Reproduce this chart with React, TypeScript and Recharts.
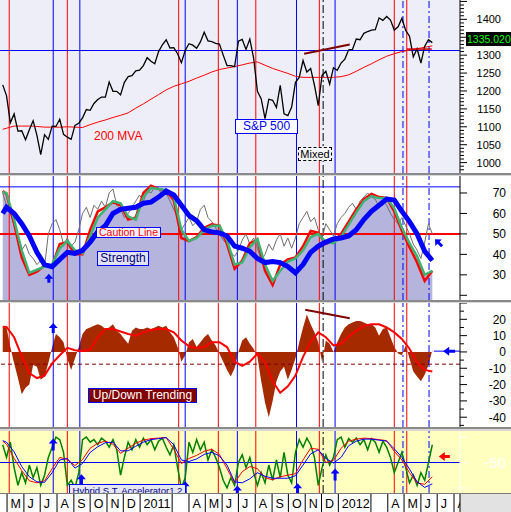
import React from "react";
import {
  Area,
  ComposedChart,
  Line,
  ReferenceDot,
  ReferenceLine,
  Scatter,
  XAxis,
  YAxis,
} from "recharts";

const FONT = "'Liberation Sans', Arial, Helvetica, sans-serif";
const ORIGIN = Date.UTC(2010, 3, 19);
const day = (iso: string) => (Date.parse(iso + "T00:00:00Z") - ORIGIN) / 86400000;
const X_DOMAIN: [number, number] = [-1, 846];

const W = 511;
const PLOT_W = 460;
const AXIS_W = W - PLOT_W;

// ---- weekly series (Friday closes, first week ends 2010-04-23) ----
const FIRST_WEEK = "2010-04-23";

const spxWeekly = [
  1217, 1187, 1111, 1136, 1088, 1089, 1064, 1092, 1117, 1076, 1022, 1078, 1065, 1102, 1101, 1121, 1079, 1071, 1065,
  1104, 1110, 1125, 1148, 1146, 1165, 1176, 1183, 1183, 1225, 1199, 1199, 1189, 1224, 1240, 1243, 1256, 1258,
  1271, 1293, 1283, 1276, 1310, 1329, 1343, 1320, 1321, 1304, 1279, 1313, 1332, 1328, 1319, 1337, 1364, 1340,
  1338, 1333, 1331, 1300, 1271, 1271, 1268, 1339, 1344, 1316, 1345, 1292, 1199, 1178, 1123, 1177, 1174, 1154,
  1216, 1136, 1131, 1155, 1224, 1238, 1285, 1253, 1263, 1216, 1159, 1244, 1255, 1219, 1265, 1258,
  1278, 1289, 1315, 1316, 1345, 1343, 1361, 1366, 1370, 1371, 1404, 1397, 1408, 1398, 1370, 1379, 1403, 1369,
  1353, 1295, 1318, 1278, 1325, 1343, 1335.02,
];

const strengthRawWeekly = [
  70, 64, 60, 55, 47, 42, 45, 40, 38, 35,
  37, 34, 50, 55, 57, 52, 45, 48, 44, 46,
  52, 60, 63, 58, 64, 62, 66, 63, 70, 72,
  64, 62, 58, 60, 63, 66, 69, 66, 71, 70,
  73, 72, 69, 70, 66, 62, 58, 52, 55, 58,
  54, 56, 62, 64, 58, 56, 53, 50, 47, 45,
  41, 39, 42, 47, 50, 45, 48, 43, 37, 40,
  45, 42, 47, 50, 44, 48, 43, 48, 55, 58,
  61, 56, 58, 52, 48, 55, 52, 49, 55, 58,
  60, 63, 65, 62, 66, 68, 70, 68, 67, 63,
  66, 64, 60, 57, 55, 58, 54, 50, 45, 42,
  38, 46, 55, 50,
];

const trendBarsWeekly = [
  15, 15, 3, -7, -16, -26, -22, -20, -8, -9,
  -17, -15, -7, 3, 11, 9, 6, -4, -11, -4,
  3, 11, 14, 15, 16, 17, 16, 14, 15, 17,
  13, 11, 8, 5, 13, 15, 14, 14, 15, 14,
  15, 16, 15, 16, 12, 9, 3, -6, -2, 6,
  8, 3, 6, 9, 11, 7, 4, -1, -6, -11,
  -15, -10, 0, 7, 9, 5, 2, -3, -18, -31,
  -40, -30, -18, -12, -9, -17, -11, -4, 6, 15,
  23, 17, 12, 6, -6, 7, 5, 0, 6, 11,
  15, 17, 18, 19, 19, 18, 17, 17, 15, 10,
  14, 15, 9, 3, -1, -2, 4, -4, -12, -15,
  -18, -14, -8, 1,
];

const accelFastWeekly = [
  -15, -40, -10, -60, -95, -70, -90, -55, -80, -60,
  -95, -75, -40, -20, 0, -5, -30, -95, -85, -100,
  -70, -5, 0, -10, -5, -15, -2, -8, -20, -5,
  -25, -75, -40, -10, -25, -5, -20, -2, -15, -5,
  -25, -8, -2, -20, -35, -15, -60, -100, -80, -10,
  -30, -5, -25, -10, -45, -25, -40, -60, -85, -100,
  -80, -95, -50, -35, -60, -40, -70, -95, -70, -90,
  -55, -85, -45, -80, -30, -75, -90, -30, -5, -20,
  -2, -15, -40, -95, -60, -35, -55, -40, -5, 0,
  -20, -3, -10, -2, -15, -5, -25, -3, -10, -30,
  -8, -20, -40, -70, -50, -30, -60, -90, -75, -95,
  -70, -85, -50, -15,
];

// ---- smoothed series: first week, then every second week from week 2 ----
const mva200 = [
  1093,
  1096, 1102, 1102, 1102, 1101, 1099, 1099, 1099, 1100, 1099,
  1098, 1106, 1113, 1119, 1126, 1132, 1139, 1152, 1164, 1177,
  1190, 1203, 1213, 1220, 1227, 1236, 1244, 1253, 1260, 1264,
  1268, 1273, 1278, 1281, 1272, 1263, 1256, 1249, 1241, 1238,
  1238, 1238, 1238, 1238, 1240, 1245, 1255, 1266, 1276, 1287,
  1297, 1304, 1310, 1314, 1318, 1322, 1326,
];

const strengthBlue = [
  60,
  63, 60, 55, 49, 41, 35, 34, 37.5, 41, 40.5,
  42, 46, 51, 54, 60, 62, 62.5, 63, 65, 65.5,
  68, 71, 69, 64, 59, 56.5, 52, 51, 50.5, 49,
  44, 43, 41.5, 38, 36, 36.5, 36, 34, 31, 35,
  41, 44, 46, 47.5, 48, 49, 52, 57, 61, 64,
  67, 66.5, 61, 56, 50, 41.5, 37,
];

const strengthRed = [
  71,
  69.5, 55, 38.5, 30, 31.5, 34.5, 34.5, 45, 46, 40,
  40, 52, 61, 63, 65.5, 64, 57, 58, 70, 73.5,
  72, 71, 66.5, 48, 46.5, 48.5, 53, 54.7, 54, 45,
  33, 37, 45.5, 47, 32, 25, 35, 37.5, 38.5, 44,
  51.5, 50.6, 45.2, 46.5, 50, 56, 62, 67, 69.5, 68,
  67.6, 61, 51.5, 43.5, 36, 27, 32,
];

const strengthGreen = [
  70.5,
  70, 57, 42, 31, 32.5, 34, 35, 43, 46.5, 42,
  40.5, 49, 58, 62, 66, 65, 58.5, 57, 68, 72.5,
  72, 71.5, 68, 52, 46.5, 48, 52, 54, 54, 47,
  35, 36, 43.5, 47.5, 35, 27, 32, 36.5, 38, 42,
  48.5, 50, 46, 45.5, 48.5, 54.5, 60.5, 66, 68.5, 67.5,
  67.5, 62.5, 53, 45.5, 39, 30, 32,
];

const trendLine = [
  15.5,
  15.3, 9, -2.5, -13, -16, -14.5, -7, -2, 2.5, 1,
  0.6, 1.5, 9, 14, 14, 12.5, 11, 10, 12, 13.5,
  14, 14, 12, 7, 3.5, 2.5, 3, 6, 6, 3,
  -6, -8.5, -6, -1, -6, -18, -25, -21, -14.5, -3,
  6, 12, 9, 4, 5, 9.5, 13, 16, 17, 17,
  15, 12, 8, 2, -6.5, -11, -12,
];

const accelBlue = [
  -7,
  -10, -29, -58, -78, -88, -89, -70, -45, -42, -61,
  -52, -30, -19, -11, -10, -27, -27, -18, -10, -5,
  -3, -1, -15, -45, -48, -43, -34, -30, -37, -55,
  -88, -90, -82, -70, -77, -81, -81, -81, -76, -55,
  -33, -25, -42, -51, -40, -17, -8, -4, -4, -6,
  -8, -23, -40, -63, -88, -99, -92,
];

const accelRed = [
  -8,
  -14, -42, -66, -86, -90, -86, -62, -40, -44, -56,
  -44, -22, -12, -8, -14, -32, -22, -12, -6, -3,
  -2, -1, -24, -52, -42, -36, -28, -24, -34, -62,
  -90, -68, -58, -62, -80, -84, -78, -75, -72, -45,
  -22, -24, -50, -46, -22, -8, -4, -2, -3, -5,
  -7, -28, -45, -70, -90, -93, -78,
];

// ---- signal dates drawn as vertical lines through every panel ----
const redEvents = ["2010-05-05", "2010-08-20", "2011-03-13", "2011-05-25", "2011-08-02", "2011-11-27", "2012-04-13", "2012-05-06"];
const blueEvents = ["2010-07-25", "2010-09-12", "2011-03-25", "2011-06-29", "2011-10-16", "2011-12-26"];
const blueDashEvents = ["2012-04-29", "2012-06-16"];
const blackDashEvents = ["2011-12-04"];

// arrows and trend marks: [date, value]
const strengthUp: [string, number] = ["2010-07-17", 30.5];
const strengthUpLeft: [string, number] = ["2012-06-27", 47.4];
const trendUp: [string, number] = ["2010-07-25", 17.8];
const trendLeft: [string, number] = ["2012-07-12", 0.5];
const accelLeft: [string, number] = ["2012-07-04", -38];
const accelSignals: [string, number][] = [
  ["2010-07-25", -3],
  ["2010-09-15", -73],
  ["2011-03-25", -87],
  ["2011-06-29", -95],
  ["2011-10-18", -91],
  ["2011-12-26", -62],
];
const spxResistance: [string, number][] = [["2011-10-30", 1304], ["2012-01-22", 1330]];
const spxSupport: [string, number][] = [["2012-05-06", 1317], ["2012-06-21", 1317]];
const trendDivergence: [string, number][] = [["2011-11-01", 25.8], ["2012-01-22", 20.7]];
const trendTail: [string, number][] = [["2012-06-25", 0.5], ["2012-08-12", 0.5]];

const SPX_LEVEL = 1313;
const STRENGTH_TOP = 73;
const CAUTION = 50;
const TREND_FLOOR = -7.5;
const ACCEL_MID = -50;

// 1350 sits under the last-price box, so it is not labelled
const spxLabels = [1000, 1050, 1100, 1150, 1200, 1250, 1300, 1400];
const strengthLabels = [30, 40, 50, 60, 70];
const trendLabels = [20, 10, 0, -10, -20, -30, -40];
const accelLabels = [-50];

const monthLabels: [string, string][] = [
  ["2010-05-01", "M"], ["2010-06-01", "J"], ["2010-07-01", "J"], ["2010-08-01", "A"],
  ["2010-09-01", "S"], ["2010-10-01", "O"], ["2010-11-01", "N"], ["2010-12-01", "D"],
  ["2011-01-01", "2011"], ["2011-03-01", ""], ["2011-04-01", "A"], ["2011-05-01", "M"],
  ["2011-06-01", "J"], ["2011-07-01", "J"], ["2011-08-01", "A"], ["2011-09-01", "S"],
  ["2011-10-01", "O"], ["2011-11-01", "N"], ["2011-12-01", "D"], ["2012-01-01", "2012"],
  ["2012-03-01", ""], ["2012-04-01", "A"], ["2012-05-01", "M"], ["2012-06-01", "J"],
  ["2012-07-01", "J"], ["2012-08-01", "A"],
];

const rows = spxWeekly.map((close, i) => {
  const k = i === 0 ? 0 : i % 2 === 1 ? (i + 1) / 2 : -1;
  const pick = (arr: number[]) => (k >= 0 ? arr[k] : undefined);
  return {
    d: day(FIRST_WEEK) + 7 * i,
    spx: close,
    raw: strengthRawWeekly[i],
    bars: trendBarsWeekly[i],
    fast: accelFastWeekly[i],
    mva: pick(mva200),
    sBlue: pick(strengthBlue),
    sRed: pick(strengthRed),
    sGreen: pick(strengthGreen),
    tLine: pick(trendLine),
    aBlue: pick(accelBlue),
    aRed: pick(accelRed),
  };
});

const steps = (from: number, to: number, step: number) => {
  const out: number[] = [];
  for (let v = from; v <= to; v += step) out.push(v);
  return out;
};

function makeTick(labels: number[], major: number, right: number, size: number, color: string, textColor: string) {
  return (p: any) => {
    const v = Math.round(p.payload.value);
    const isMajor = v % major === 0;
    const show = labels.includes(v);
    return (
      <g>
        <line x1={p.x} x2={p.x + (isMajor ? 7 : 4)} y1={p.y} y2={p.y} stroke={color} />
        {show && (
          <text x={p.x + right} y={p.y + size * 0.36} textAnchor="end" fontSize={size} fontFamily={FONT} fill={textColor}>
            {v}
          </text>
        )}
      </g>
    );
  };
}

function eventLines(id: string) {
  return [
    ...redEvents.map((iso) => <ReferenceLine key={id + "r" + iso} x={day(iso)} stroke="#FF0000" />),
    ...blueEvents.map((iso) => <ReferenceLine key={id + "b" + iso} x={day(iso)} stroke="#0000FF" />),
    ...blueDashEvents.map((iso) => (
      <ReferenceLine key={id + "bd" + iso} x={day(iso)} stroke="#0000FF" strokeDasharray="7 3 2 3" />
    )),
    ...blackDashEvents.map((iso) => (
      <ReferenceLine key={id + "k" + iso} x={day(iso)} stroke="#000000" strokeDasharray="8 3 2 3" />
    )),
  ];
}

const seg = (pts: [string, number][]) => pts.map(([iso, v]) => ({ x: day(iso), y: v }));

const upArrow = (color: string, h: number) => (p: any) => {
  const { cx, cy } = p;
  return (
    <path
      d={`M${cx},${cy} L${cx + 4.5},${cy + 5} L${cx + 1.5},${cy + 5} L${cx + 1.5},${cy + h} L${cx - 1.5},${cy + h} L${cx - 1.5},${cy + 5} L${cx - 4.5},${cy + 5} Z`}
      fill={color}
    />
  );
};

const leftArrow = (color: string, len: number) => (p: any) => {
  const { cx, cy } = p;
  return (
    <path
      d={`M${cx},${cy} L${cx + 6},${cy - 4.5} L${cx + 6},${cy - 1.5} L${cx + len},${cy - 1.5} L${cx + len},${cy + 1.5} L${cx + 6},${cy + 1.5} L${cx + 6},${cy + 4.5} Z`}
      fill={color}
    />
  );
};

const upLeftArrow = (p: any) => (
  <g transform={`rotate(-45 ${p.cx} ${p.cy})`}>{upArrow("#0000FF", 10)(p)}</g>
);

function Panel(props: {
  top: number;
  height: number;
  plotBg: string;
  axisBg: string;
  domain: [number, number];
  ticks: number[];
  tick: any;
  axisStroke: string;
  children: React.ReactNode;
}) {
  const { top, height, plotBg, axisBg, domain, ticks, tick, axisStroke, children } = props;
  return (
    <div style={{ position: "absolute", left: 0, top, width: W, height }}>
      <div style={{ position: "absolute", left: 0, top: 0, width: PLOT_W, height, background: plotBg }} />
      <div style={{ position: "absolute", left: PLOT_W, top: 0, width: AXIS_W, height, background: axisBg }} />
      <div style={{ position: "absolute", left: 0, top: 0 }}>
        <ComposedChart width={W} height={height} data={rows} margin={{ top: 0, right: 0, bottom: 0, left: 0 }}>
          <XAxis dataKey="d" type="number" domain={X_DOMAIN} hide allowDataOverflow />
          <YAxis
            orientation="right"
            width={AXIS_W}
            type="number"
            domain={domain}
            ticks={ticks}
            interval={0}
            tick={tick}
            tickLine={false}
            tickSize={0}
            tickMargin={0}
            axisLine={{ stroke: axisStroke }}
            allowDataOverflow
          />
          {children}
        </ComposedChart>
      </div>
    </div>
  );
}

function Tag(props: {
  left: number;
  top: number;
  width: number;
  height: number;
  bg: string;
  border: string;
  color: string;
  size: number;
  children: React.ReactNode;
}) {
  const { left, top, width, height, bg, border, color, size, children } = props;
  return (
    <div
      style={{
        position: "absolute",
        left,
        top,
        width,
        height,
        boxSizing: "border-box",
        background: bg,
        border,
        color,
        fontSize: size,
        fontFamily: FONT,
        lineHeight: `${height - 2}px`,
        textAlign: "center",
        whiteSpace: "nowrap",
        overflow: "hidden",
      }}
    >
      {children}
    </div>
  );
}

function MonthRow() {
  const top = 493;
  const height = 19;
  const data = monthLabels.map(([iso, t]) => ({ d: day(iso), y: 0, t }));
  return (
    <div style={{ position: "absolute", left: 0, top, width: W, height }}>
      <div style={{ position: "absolute", left: 0, top: 0, width: PLOT_W, height, background: "#FFFFFF" }} />
      <div style={{ position: "absolute", left: PLOT_W, top: 0, width: AXIS_W, height, background: "#E2E2E2" }} />
      <div style={{ position: "absolute", left: 0, top: 0, width: PLOT_W + 1, height, overflow: "hidden" }}>
        <ComposedChart width={W} height={height} data={data} margin={{ top: 0, right: 0, bottom: 0, left: 0 }}>
          <XAxis dataKey="d" type="number" domain={X_DOMAIN} hide allowDataOverflow />
          <YAxis orientation="right" width={AXIS_W} domain={[-1, 1]} tick={false} tickLine={false} axisLine={{ stroke: "#000" }} />
          {data.map((m) => (
            <ReferenceLine key={"m" + m.d} x={m.d} stroke="#000000" />
          ))}
          <Scatter
            dataKey="y"
            isAnimationActive={false}
            shape={(p: any) => (
              <text x={p.cx + 3.5} y={p.cy + 5} fontSize={12.5} fontFamily={FONT} fill="#000">
                {p.payload.t}
              </text>
            )}
          />
        </ComposedChart>
      </div>
      <div style={{ position: "absolute", left: 0, top: 0, width: W, height: 1, background: "#7A7A7A" }} />
    </div>
  );
}

export default function App() {
  const lastClose = spxWeekly[spxWeekly.length - 1];
  return (
    <div style={{ position: "absolute", left: 0, top: 0, width: W, height: 512, background: "#FFFFFF", overflow: "hidden" }}>
      <Panel
        top={0}
        height={173}
        plotBg="#EEEEF8"
        axisBg="#FFFFFF"
        domain={[971, 1454]}
        ticks={steps(980, 1450, 10)}
        tick={makeTick(spxLabels, 50, 41, 11, "#000", "#000")}
        axisStroke="#000"
      >
        {eventLines("p1")}
        <ReferenceLine y={SPX_LEVEL} stroke="#0000FF" />
        <Line dataKey="mva" stroke="#FF0000" strokeWidth={1} dot={false} activeDot={false} connectNulls isAnimationActive={false} />
        <Line dataKey="spx" stroke="#000000" strokeWidth={1.3} dot={false} activeDot={false} isAnimationActive={false} />
        <ReferenceLine segment={seg(spxResistance)} stroke="#800000" strokeWidth={2} />
        <ReferenceLine segment={seg(spxSupport)} stroke="#D00000" strokeWidth={1.5} />
      </Panel>

      <Panel
        top={176}
        height={124}
        plotBg="#FFFFFF"
        axisBg="#FFFFFF"
        domain={[17.7, 78.3]}
        ticks={steps(20, 70, 10)}
        tick={makeTick(strengthLabels, 10, 46, 12, "#000", "#000")}
        axisStroke="#000"
      >
        <Area dataKey="sGreen" fill="#B4B4DC" fillOpacity={1} stroke="none" connectNulls isAnimationActive={false} />
        {eventLines("p2")}
        <ReferenceLine y={STRENGTH_TOP} stroke="#0000FF" />
        <ReferenceLine y={CAUTION} stroke="#FF0000" strokeWidth={2} />
        <Line dataKey="raw" stroke="#6E6E6E" strokeWidth={1} dot={false} activeDot={false} isAnimationActive={false} />
        <Line dataKey="sRed" stroke="#FF0000" strokeWidth={2.5} dot={false} activeDot={false} connectNulls isAnimationActive={false} />
        <Line dataKey="sGreen" stroke="#3CB371" strokeWidth={2.5} dot={false} activeDot={false} connectNulls isAnimationActive={false} />
        <Line dataKey="sBlue" stroke="#0000FF" strokeWidth={5} dot={false} activeDot={false} connectNulls isAnimationActive={false} />
        <ReferenceDot x={day(strengthUp[0])} y={strengthUp[1]} shape={upArrow("#0000FF", 9)} />
        <ReferenceDot x={day(strengthUpLeft[0])} y={strengthUpLeft[1]} shape={upLeftArrow} />
      </Panel>

      <Panel
        top={303}
        height={124}
        plotBg="#FFFFFF"
        axisBg="#FFFFFF"
        domain={[-46, 30]}
        ticks={steps(-45, 30, 5)}
        tick={makeTick(trendLabels, 10, 46, 12, "#000", "#000")}
        axisStroke="#000"
      >
        <Area dataKey="bars" fill="#A52A00" fillOpacity={1} stroke="none" isAnimationActive={false} />
        {eventLines("p3")}
        <ReferenceLine y={TREND_FLOOR} stroke="#800000" strokeDasharray="4 3" />
        <Line dataKey="tLine" stroke="#FF0000" strokeWidth={2} dot={false} activeDot={false} connectNulls isAnimationActive={false} />
        <ReferenceLine segment={seg(trendDivergence)} stroke="#800000" strokeWidth={2} />
        <ReferenceLine segment={seg(trendTail)} stroke="#0000FF" />
        <ReferenceDot x={day(trendUp[0])} y={trendUp[1]} shape={upArrow("#0000FF", 10)} />
        <ReferenceDot x={day(trendLeft[0])} y={trendLeft[1]} shape={leftArrow("#0000FF", 12)} />
      </Panel>

      <Panel
        top={431}
        height={62}
        plotBg="#FFFFC0"
        axisBg="#FFFFC0"
        domain={[-110, 12]}
        ticks={[0, -50, -100]}
        tick={makeTick(accelLabels, 50, 46, 15, "#FFFFFF", "#FFFFFF")}
        axisStroke="#FFFFFF"
      >
        {eventLines("p4")}
        <ReferenceLine y={ACCEL_MID} stroke="#0000FF" />
        <Line dataKey="fast" stroke="#008000" strokeWidth={1.5} dot={false} activeDot={false} isAnimationActive={false} />
        <Line dataKey="aRed" stroke="#FF0000" strokeWidth={1} dot={false} activeDot={false} connectNulls isAnimationActive={false} />
        <Line dataKey="aBlue" stroke="#0000FF" strokeWidth={1} dot={false} activeDot={false} connectNulls isAnimationActive={false} />
        {accelSignals.map(([iso, v]) => (
          <ReferenceDot key={"a" + iso} x={day(iso)} y={v} shape={upArrow("#0000FF", 12)} />
        ))}
        <ReferenceDot x={day(accelLeft[0])} y={accelLeft[1]} shape={leftArrow("#FF0000", 11)} />
      </Panel>

      {[173, 300, 427].map((y) => (
        <div
          key={"div" + y}
          style={{ position: "absolute", left: 0, top: y, width: W, height: y === 427 ? 4 : 3, background: "linear-gradient(#8A8A8A 0 2px, #D8D8D8 2px)" }}
        />
      ))}

      <div style={{ position: "absolute", left: 94, top: 130, color: "#FF0000", fontSize: 12, fontFamily: FONT, lineHeight: "12px", whiteSpace: "nowrap" }}>
        200 MVA
      </div>
      <Tag left={235} top={119} width={63} height={15} bg="#FFFFFF" border="1px solid #0000FF" color="#0000FF" size={12}>
        S&amp;P 500
      </Tag>
      <Tag left={298} top={147} width={34} height={14} bg="#F4F4FA" border="1px dashed #000000" color="#000000" size={11}>
        Mixed
      </Tag>
      <div
        style={{
          position: "absolute",
          left: 466,
          top: 32,
          width: 45,
          height: 14,
          background: "#000000",
          color: "#00FF00",
          fontSize: 10.5,
          fontFamily: FONT,
          lineHeight: "14px",
          paddingLeft: 1,
          whiteSpace: "nowrap",
          overflow: "hidden",
          boxSizing: "border-box",
        }}
      >
        {lastClose.toFixed(3)}
      </div>
      <Tag left={96} top={227} width={65} height={11} bg="#F0F0FA" border="1px solid #0000FF" color="#FF0000" size={10.5}>
        Caution Line
      </Tag>
      <Tag left={97} top={251} width={52} height={15} bg="#E2E2F2" border="1px solid #0000FF" color="#000080" size={12}>
        Strength
      </Tag>
      <Tag left={88} top={388} width={109} height={15} bg="#800000" border="1px solid #0000FF" color="#FFFFFF" size={12}>
        Up/Down Trending
      </Tag>
      <Tag left={69} top={484} width={117} height={13} bg="#E6E6F6" border="1px solid #0000FF" color="#000080" size={9.5}>
        Hybrid S.T. Accelerator1.2
      </Tag>

      <MonthRow />
    </div>
  );
}
